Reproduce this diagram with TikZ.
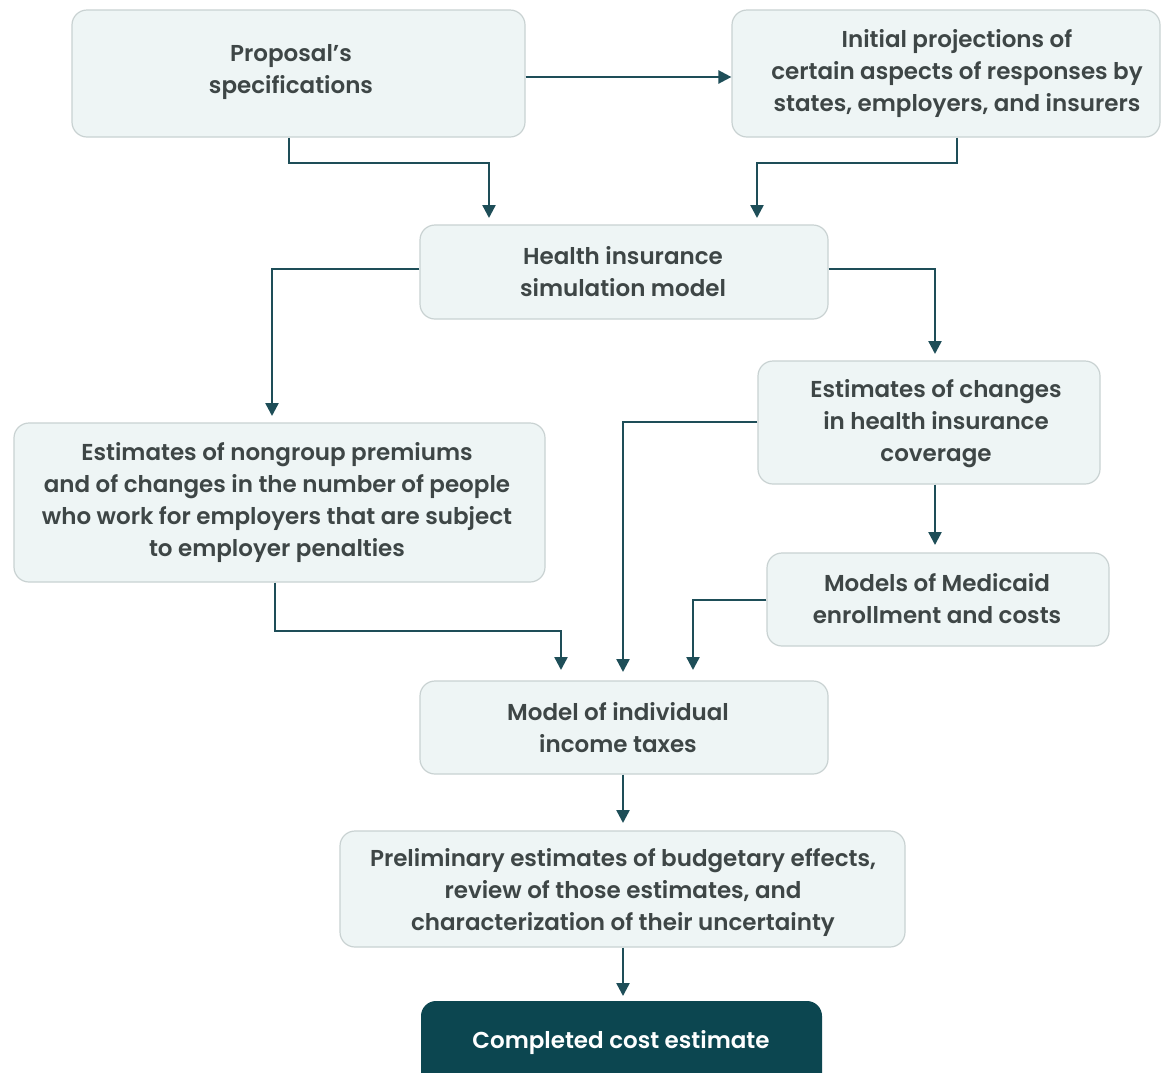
\documentclass[tikz,border=0pt]{standalone}
\usepackage{fontspec}
\setmainfont{Poppins}[BoldFont={Poppins SemiBold}]
\usetikzlibrary{arrows.meta}
\definecolor{boxfill}{HTML}{EEF5F5}
\definecolor{boxline}{HTML}{C9D2D2}
\definecolor{teal}{HTML}{1E4E58}
\definecolor{dark}{HTML}{0C4650}
\definecolor{txt}{HTML}{3E4646}
\begin{document}
\begin{tikzpicture}[x=1pt,y=-1pt,
  stepbox/.style={draw=boxline,line width=1.2pt,fill=boxfill,rounded corners=15pt,inner sep=0pt},
  finalbox/.style={fill=dark,rounded corners=15pt,inner sep=0pt},
  lbl/.style={align=center,text=txt,font=\fontsize{23}{32}\selectfont\bfseries,inner sep=0pt,yshift=-2.5pt},
  conn/.style={draw=teal,line width=2.4pt,-{Triangle[width=13pt,length=13pt]}}]
\clip (0,0) rectangle (1169,1072);
\fill[white] (0,0) rectangle (1169,1072);
\node[stepbox,minimum width=453pt,minimum height=127pt] (prop) at (298.5,73.5) {};
\node[stepbox,minimum width=428pt,minimum height=127pt] (init) at (946,73.5) {};
\node[stepbox,minimum width=408pt,minimum height=94pt] (hism) at (624,272) {};
\node[stepbox,minimum width=342pt,minimum height=123pt] (chg) at (929,422.5) {};
\node[stepbox,minimum width=531pt,minimum height=159pt] (nong) at (279.5,502.5) {};
\node[stepbox,minimum width=342pt,minimum height=93pt] (medi) at (938,599.5) {};
\node[stepbox,minimum width=408pt,minimum height=93pt] (tax) at (624,727.5) {};
\node[stepbox,minimum width=565pt,minimum height=116pt] (prel) at (622.5,889) {};
\node[finalbox,minimum width=401pt,minimum height=90pt] (done) at (621.5,1046) {};
\node[lbl] (propl) at (291,70) {Proposal’s\\specifications};
\node[lbl] (initl) at (957,71) {Initial projections of\\certain aspects of responses by\\states, employers, and insurers};
\node[lbl] (hisml) at (623,269) {Health insurance\\simulation model};
\node[lbl] (chgl) at (936,421) {Estimates of changes\\in health insurance\\coverage};
\node[lbl] (nongl) at (277,500) {Estimates of nongroup premiums\\and of changes in the number of people\\who work for employers that are subject\\to employer penalties};
\node[lbl] (medil) at (937,596) {Models of Medicaid\\enrollment and costs};
\node[lbl] (taxl) at (618,725) {Model of individual\\income taxes};
\node[lbl] (prell) at (623,890) {Preliminary estimates of budgetary effects,\\review of those estimates, and\\characterization of their uncertainty};
\node[lbl,text=white] (donel) at (621,1040) {Completed cost estimate};
% connectors
\coordinate (a1) at (489,218);
\coordinate (a2) at (757,218);
\draw[conn] (prop.east |- 0,77) -- (init.west |- 0,77);
\draw[conn] (prop.south -| 289,0) |- (489,163) -- (a1);
\draw[conn] (init.south -| 957,0) |- (757,163) -- (a2);
\draw[conn] (hism.west |- 0,269) -| (272,416);
\draw[conn] (hism.east |- 0,269) -| (935,354);
\draw[conn] (chg.west |- 0,422) -| (623,672);
\draw[conn] (chg.south -| 935,0) -- (935,545);
\draw[conn] (nong.south -| 275,0) |- (561,631) -- (561,670);
\draw[conn] (medi.west |- 0,600) -| (693,670);
\draw[conn] (tax.south -| 623,0) -- (623,823);
\draw[conn] (prel.south -| 623,0) -- (623,996);
\end{tikzpicture}
\end{document}
